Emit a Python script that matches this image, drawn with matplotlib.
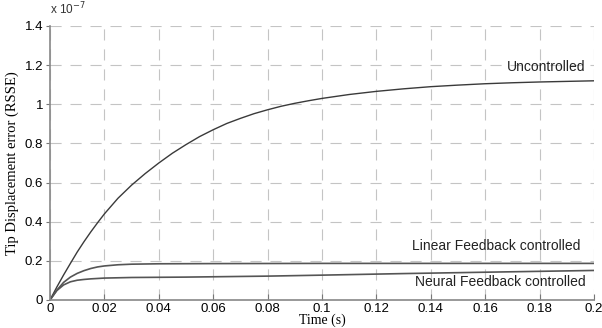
import matplotlib
matplotlib.use("Agg")
import matplotlib.pyplot as plt
import numpy as np

# Data (values in units of 1e-7)
t_unc = [0, 0.0025, 0.005, 0.0075, 0.01, 0.0125, 0.015, 0.0175, 0.02, 0.025, 0.03, 0.035,
         0.04, 0.045, 0.05, 0.055, 0.06, 0.065, 0.07, 0.075, 0.08, 0.085, 0.09, 0.095,
         0.10, 0.11, 0.12, 0.13, 0.14, 0.15, 0.16, 0.17, 0.18, 0.19, 0.20]
unc = [0, 0.066, 0.128, 0.187, 0.245, 0.298, 0.348, 0.395, 0.440, 0.520, 0.587, 0.646,
       0.700, 0.750, 0.794, 0.835, 0.870, 0.902, 0.928, 0.952, 0.972, 0.990, 1.005, 1.018,
       1.030, 1.050, 1.066, 1.079, 1.090, 1.098, 1.105, 1.110, 1.114, 1.117, 1.120]

t_lin = [0, 0.0025, 0.005, 0.0075, 0.01, 0.0125, 0.015, 0.0175, 0.02, 0.025, 0.03, 0.04,
         0.06, 0.10, 0.15, 0.20]
lin = [0, 0.050, 0.090, 0.117, 0.136, 0.150, 0.161, 0.169, 0.174, 0.180, 0.183, 0.185,
       0.186, 0.187, 0.187, 0.187]

t_neu = [0, 0.0025, 0.005, 0.0075, 0.01, 0.0125, 0.015, 0.0175, 0.02, 0.03, 0.05, 0.08,
         0.10, 0.13, 0.16, 0.20]
neu = [0, 0.048, 0.077, 0.093, 0.101, 0.105, 0.108, 0.110, 0.112, 0.115, 0.117, 0.122,
       0.127, 0.135, 0.142, 0.151]

xticks = [0, 0.02, 0.04, 0.06, 0.08, 0.1, 0.12, 0.14, 0.16, 0.18, 0.2]
xticklabels = ["0", "0.02", "0.04", "0.06", "0.08", "0.1", "0.12", "0.14", "0.16", "0.18", "0.2"]
yticks = [0, 0.2, 0.4, 0.6, 0.8, 1.0, 1.2, 1.4]
yticklabels = ["0", "0.2", "0.4", "0.6", "0.8", "1", "1.2", "1.4"]

sans = ["Liberation Sans", "DejaVu Sans"]
serif = ["Liberation Serif", "DejaVu Serif"]

fig = plt.figure(figsize=(6.02, 3.28), dpi=100)
ax = fig.add_axes([50/602, 28/328, 544/602, 274/328])

ax.plot(t_unc, unc, color="#3a3a3a", lw=1.0)
ax.plot(t_lin, lin, color="#555555", lw=1.2)
ax.plot(t_neu, neu, color="#555555", lw=1.2)

ax.set_xlim(0, 0.2)
ax.set_ylim(0, 1.4)
ax.set_xticks(xticks)
ax.set_xticklabels(xticklabels, fontfamily=sans, fontsize=9.5)
ax.set_yticks(yticks)
ax.set_yticklabels(yticklabels, fontfamily=sans, fontsize=9.5)

ax.grid(True, color="#c4c4c4", linestyle=(0, (10, 8)), lw=0.8)
for s in ["top", "right"]:
    ax.spines[s].set_visible(False)
for s in ["left", "bottom"]:
    ax.spines[s].set_color("#888888")
    ax.spines[s].set_linewidth(1.2)
ax.tick_params(axis="x", direction="in", length=4, color="#777777", pad=2)
ax.tick_params(axis="y", direction="out", length=3, color="#777777", pad=2)

ax.set_xlabel("Time (s)", fontfamily=serif, fontsize=10, labelpad=-1)
ax.set_ylabel("Tip Displacement error (RSSE)", fontfamily=serif, fontsize=10.5, labelpad=4)

ax.text(0.0, 1.03, r"x 10$^{-7}$", transform=ax.transAxes, fontfamily=sans, fontsize=8.5,
        ha="left", va="bottom", color="#333333")

ax.text(0.197, 1.19, "Uncontrolled", fontfamily=sans, fontsize=10, ha="right", va="center",
        color="#222222")
ax.text(0.195, 0.276, "Linear Feedback controlled", fontfamily=sans, fontsize=10, ha="right",
        va="center", color="#222222")
ax.text(0.197, 0.092, "Neural Feedback controlled", fontfamily=sans, fontsize=10, ha="right",
        va="center", color="#222222")

fig.savefig("out.png", dpi=100)
